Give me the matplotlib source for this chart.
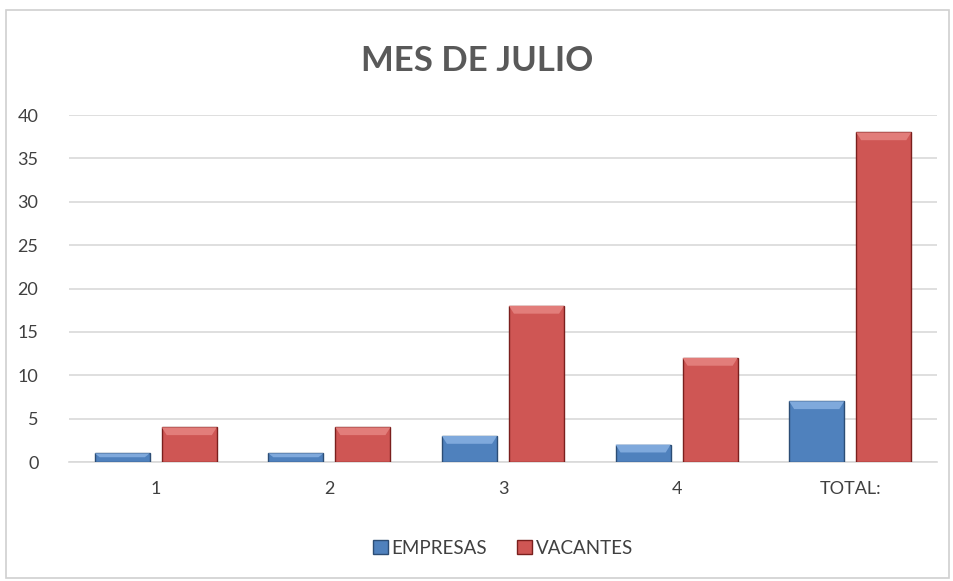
import matplotlib.pyplot as plt
import numpy as np
from matplotlib.patches import Rectangle, Polygon

plt.rcParams['font.family'] = ['Lato', 'DejaVu Sans']

categorias = ['1', '2', '3', '4', 'TOTAL:']
empresas = [1, 1, 3, 2, 7]
vacantes = [4, 4, 18, 12, 38]

fig = plt.figure(figsize=(9.54, 5.81), dpi=100)
ax = fig.add_axes([0.0723, 0.2048, 0.9099, 0.5972])

# outer chart border
fig.patches.append(Rectangle((0.006, 0.005), 0.989, 0.978, transform=fig.transFigure,
                             fill=False, edgecolor='#d0d0d0', linewidth=1.2))

x = np.arange(len(categorias))
width = 0.317
off = 0.193

def bevel_bars(xs, vals, face, light, dark, label):
    bars = ax.bar(xs, vals, width, color=face, edgecolor=dark, linewidth=1.0,
                  label=label, zorder=3)
    # light bevel on top of each bar
    for b in bars:
        x0, w, h = b.get_x(), b.get_width(), b.get_height()
        bev = min(0.9, h * 0.45)
        bw = w * 0.09
        ax.add_patch(Polygon([(x0, h), (x0 + w, h), (x0 + w - bw, h - bev), (x0 + bw, h - bev)],
                             closed=True, facecolor=light, edgecolor='none', zorder=4))
    return bars

bevel_bars(x - off, empresas, '#4f81bd', '#7fa9dc', '#2c4d75', 'EMPRESAS')
bevel_bars(x + off, vacantes, '#cf5654', '#e27d7a', '#7a1f1d', 'VACANTES')

ax.set_xlim(-0.5, len(categorias) - 0.5)
ax.set_ylim(0, 40)
ax.set_yticks(range(0, 41, 5))
ax.set_xticks(x)
ax.set_xticklabels(categorias)
ax.yaxis.grid(True, color='#d9d9d9', linewidth=1.2, zorder=0)
ax.set_axisbelow(True)
for s in ['top', 'right', 'left']:
    ax.spines[s].set_visible(False)
ax.spines['bottom'].set_color('#d9d9d9')
ax.spines['bottom'].set_linewidth(1.2)
ax.tick_params(axis='both', length=0, labelsize=13, labelcolor='#404040')
ax.tick_params(axis='y', pad=22)
ax.tick_params(axis='x', pad=14)

fig.text(0.5, 0.895, 'MES DE JULIO', ha='center', va='center', fontsize=25,
         fontweight='bold', color='#595959')

ax.legend(loc='center', bbox_to_anchor=(0.5, -0.248), ncol=2, frameon=False,
          fontsize=13.5, handlelength=0.8, handleheight=0.8, handletextpad=0.2,
          columnspacing=1.6, labelcolor='#404040')

fig.savefig('out.png', dpi=100)
